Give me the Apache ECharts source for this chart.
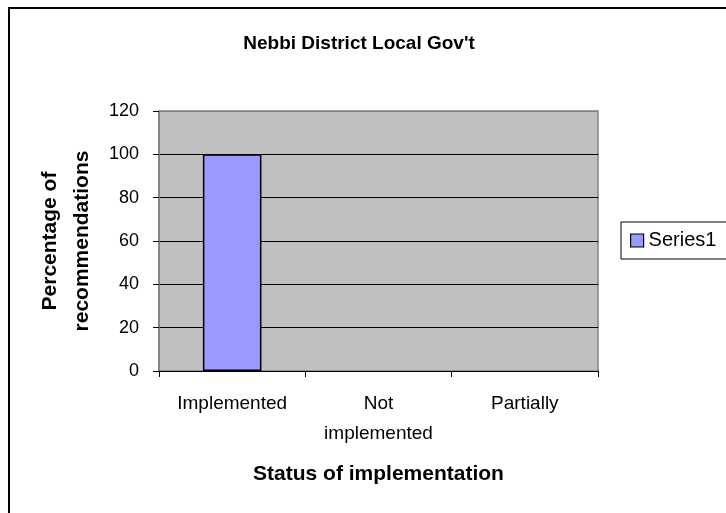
<!DOCTYPE html>
<html>
<head>
<meta charset="utf-8">
<script src="https://cdn.jsdelivr.net/npm/echarts@6/dist/echarts.min.js"></script>
<style>
html,body{margin:0;padding:0;background:#fff;}
#chart{width:726px;height:513px;}
</style>
</head>
<body>
<div id="chart"></div>
<script>
var categories = ['Implemented', 'Not\nimplemented', 'Partially'];
var seriesName = 'Series1';
var values = [100, 0, 0];
var yTicks = {min: 0, max: 120, interval: 20};
var titleText = "Nebbi District Local Gov't";
var xAxisTitle = 'Status of implementation';
var yAxisTitle = 'Percentage of\nrecommendations';

var chart = echarts.init(document.getElementById('chart'));
var font = 'Liberation Sans, Arial, sans-serif';
chart.setOption({
  animation: false,
  backgroundColor: '#ffffff',
  graphic: [{
    type: 'rect', z: -10, silent: true,
    shape: {x: 9, y: 8, width: 800, height: 600},
    style: {fill: '#ffffff', stroke: '#000000', lineWidth: 2}
  }],
  title: {
    text: titleText, left: 354, top: 29, textAlign: 'center',
    textStyle: {fontFamily: font, fontSize: 19, fontWeight: 'bold', color: '#000'}
  },
  legend: {
    data: [seriesName], left: 621, top: 222, orient: 'vertical',
    padding: [8, 30, 8, 9],
    borderColor: '#000', borderWidth: 1, backgroundColor: '#fff',
    icon: 'rect', itemWidth: 13, itemHeight: 13, itemGap: 6,
    itemStyle: {borderColor: '#000', borderWidth: 1.2},
    textStyle: {fontFamily: font, fontSize: 20, color: '#000', lineHeight: 21}
  },
  grid: {
    left: 159, right: 128, top: 111, bottom: 142, containLabel: false,
    show: true, backgroundColor: '#C0C0C0', borderColor: '#808080', borderWidth: 1.5
  },
  xAxis: {
    type: 'category', data: categories, boundaryGap: true,
    name: xAxisTitle, nameLocation: 'middle', nameGap: 93,
    nameTextStyle: {fontFamily: font, fontSize: 21, fontWeight: 'bold', color: '#000'},
    axisLine: {lineStyle: {color: '#000', width: 1}},
    axisTick: {show: true, length: 6, lineStyle: {color: '#000'}},
    axisLabel: {fontFamily: font, fontSize: 19, color: '#000', margin: 18, lineHeight: 30, interval: 0}
  },
  yAxis: {
    type: 'value', min: yTicks.min, max: yTicks.max, interval: yTicks.interval,
    name: yAxisTitle, nameLocation: 'middle', nameGap: 59,
    nameTextStyle: {fontFamily: font, fontSize: 21, fontWeight: 'bold', color: '#000', lineHeight: 32},
    axisLine: {show: true, lineStyle: {color: '#808080', width: 1.5}},
    axisTick: {show: true, length: 6, lineStyle: {color: '#000'}},
    axisLabel: {fontFamily: font, fontSize: 18, color: '#000', margin: 20},
    splitLine: {show: true, lineStyle: {color: ['#000','#000','#000','#000','#000','#000','#808080'], width: 1}}
  },
  series: [{
    name: seriesName, type: 'bar', barWidth: '40%',
    data: values.map(function (v) {
      return v === 0 ? {value: v, itemStyle: {borderWidth: 0}} : v;
    }),
    itemStyle: {color: '#9999FF', borderColor: '#000', borderWidth: 1.5}
  }]
});
</script>
</body>
</html>
